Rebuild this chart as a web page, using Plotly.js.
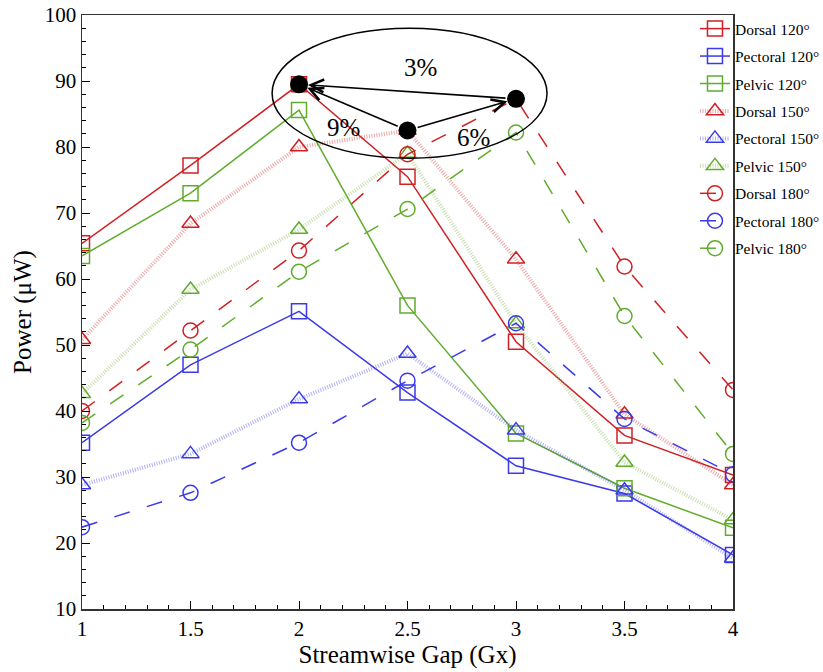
<!DOCTYPE html>
<html><head><meta charset="utf-8">
<script src="https://cdn.plot.ly/plotly-3.0.1.min.js"></script>
<style>body{margin:0;background:#fff}#c{width:823px;height:672px}</style>
</head><body><div id="c"></div>
<script>
const gap = [1, 1.5, 2, 2.5, 3, 3.5, 4];
const dorsal120   = [65.4, 77.2, 89.5, 75.5, 50.5, 36.3, 30.3];
const pectoral120 = [35.2, 47.0, 55.1, 42.8, 31.7, 27.5, 18.2];
const pelvic120   = [63.5, 73.0, 85.6, 56.0, 36.6, 28.3, 22.3];
const dorsal150   = [50.8, 68.4, 80.0, 82.5, 63.0, 39.5, 28.8];
const pectoral150 = [28.8, 33.5, 41.8, 48.7, 37.1, 28.0, 17.7];
const pelvic150   = [42.6, 58.4, 67.5, 79.0, 53.2, 32.2, 23.5];
const dorsal180   = [40.0, 52.2, 64.3, 78.9, 87.3, 61.9, 43.2];
const pectoral180 = [22.4, 27.6, 35.2, 44.6, 53.3, 38.8, 30.4];
const pelvic180   = [38.2, 49.3, 61.1, 70.6, 82.2, 54.4, 33.5];
const peakX = [2, 2.5, 3];
const peakY = [89.5, 82.5, 87.3];
const yTicks = [10, 20, 30, 40, 50, 60, 70, 80, 90, 100];
const xTicks = [1, 1.5, 2, 2.5, 3, 3.5, 4];

const RED = 'rgb(208,32,36)', BLUE = 'rgb(58,58,232)', GREEN = 'rgb(96,172,44)';
const RED_F = 'rgba(208,32,36,0.4)', BLUE_F = 'rgba(58,58,232,0.4)', GREEN_F = 'rgba(120,172,60,0.4)';

let gi = 0;
function tr(name, y, color, mcolor, sym, dash, width) {
  gi += 1;
  return {x: gap, y: y, name: name, type: 'scatter', mode: 'lines+markers', legendgroup: 'g' + gi,
    line: {color: color, width: width, dash: dash},
    marker: {symbol: sym, size: 15, color: mcolor, line: {color: mcolor, width: 1.5}}};
}
const DOT = '1px,1.5px', DASH = '16px,18px';
const data = [
  tr('Dorsal 120°', dorsal120, RED, RED, 'square-open', 'solid', 1.5),
  tr('Pectoral 120°', pectoral120, BLUE, BLUE, 'square-open', 'solid', 1.5),
  tr('Pelvic 120°', pelvic120, GREEN, GREEN, 'square-open', 'solid', 1.5),
  tr('Dorsal 150°', dorsal150, RED_F, RED, 'triangle-up-open', DOT, 4),
  tr('Pectoral 150°', pectoral150, BLUE_F, BLUE, 'triangle-up-open', DOT, 4),
  tr('Pelvic 150°', pelvic150, GREEN_F, GREEN, 'triangle-up-open', DOT, 4),
  tr('Dorsal 180°', dorsal180, RED, RED, 'circle-open', DASH, 1.5),
  tr('Pectoral 180°', pectoral180, BLUE, BLUE, 'circle-open', DASH, 1.5),
  tr('Pelvic 180°', pelvic180, GREEN, GREEN, 'circle-open', DASH, 1.5),
  {x: peakX, y: peakY, type: 'scatter', mode: 'markers', showlegend: false,
   marker: {size: 18, color: 'black'}}
];

function arrow(hx, hy, tx, ty) {
  return {x: hx, y: hy, ax: tx, ay: ty, xref: 'x', yref: 'y', axref: 'x', ayref: 'y',
    text: '', showarrow: true, arrowhead: 5, arrowsize: 1.6, arrowwidth: 1.6,
    arrowcolor: 'black', standoff: 9, startstandoff: 9};
}
const F = 'Liberation Serif, Times New Roman, serif';
const layout = {
  width: 823, height: 672,
  margin: {l: 82, r: 90, t: 15, b: 63, autoexpand: false},
  paper_bgcolor: 'white', plot_bgcolor: 'white',
  font: {family: F, color: 'black'},
  showlegend: true,
  legend: {x: 0.9416, xanchor: 'left', y: 1.005, yanchor: 'top', bgcolor: 'rgba(0,0,0,0)',
    font: {family: F, size: 15.5, color: 'black'}, tracegroupgap: 4.3},
  xaxis: {range: [1, 4], tickvals: xTicks, ticktext: xTicks.map(String),
    ticks: 'inside', ticklen: 8, tickcolor: 'black', tickwidth: 1,
    minor: {dtick: 0.1, ticks: 'inside', ticklen: 4, tickcolor: 'black'},
    showline: true, linecolor: '#333', linewidth: 1.5, mirror: true, showgrid: false, zeroline: false,
    tickfont: {family: F, size: 21}, title: {text: 'Streamwise Gap (Gx)', font: {family: F, size: 25}, standoff: 6}},
  yaxis: {range: [10, 100], tickvals: yTicks, ticktext: yTicks.map(String),
    ticks: 'inside', ticklen: 8, tickcolor: 'black', tickwidth: 1,
    minor: {dtick: 2, ticks: 'inside', ticklen: 4, tickcolor: 'black'},
    showline: true, linecolor: '#333', linewidth: 1.5, mirror: true, showgrid: false, zeroline: false,
    tickfont: {family: F, size: 21}, title: {text: 'Power (μW)', font: {family: F, size: 25}, standoff: 6}},
  shapes: [{type: 'circle', xref: 'x', yref: 'y', x0: 1.876, x1: 3.143, y0: 78.3, y1: 98.0,
    line: {color: 'black', width: 1.5}}],
  annotations: [
    arrow(2, 89.5, 3, 87.3),
    arrow(2, 89.5, 2.5, 82.5),
    arrow(3, 87.3, 2.5, 82.5),
    {x: 2.558, y: 92.0, xref: 'x', yref: 'y', text: '3%', showarrow: false, font: {family: F, size: 25}},
    {x: 2.203, y: 82.9, xref: 'x', yref: 'y', text: '9%', showarrow: false, font: {family: F, size: 25}},
    {x: 2.806, y: 81.5, xref: 'x', yref: 'y', text: '6%', showarrow: false, font: {family: F, size: 25}}
  ]
};
Plotly.newPlot('c', data, layout, {displayModeBar: false, staticPlot: true});
</script></body></html>
